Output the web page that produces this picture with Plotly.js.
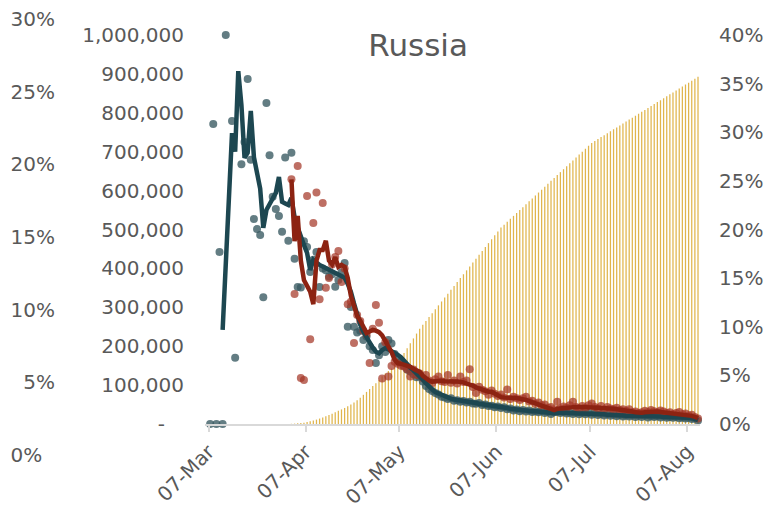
<!DOCTYPE html>
<html>
<head>
<meta charset="utf-8">
<script src="https://cdn.plot.ly/plotly-3.0.1.min.js"></script>
<style>
  html, body { margin: 0; padding: 0; background: #fff; }
  #plot { width: 770px; height: 511px; }
</style>
</head>
<body>
<div id="plot"></div>
<script>
// one value per day, starting 07-Mar-2020
const firstDay = Date.UTC(2020, 2, 7);

// daily values (grey dots) and their average line
const greyDots = [
  0, 771, 0, 442, 0, 1000, null, 779, 170, null,
  668, 725, 887, 679, 527, 501, 486, 326, 825, 691,
  584, 553, 535, 494, 685, 471, 697, 425, 352, 351,
  470, 455, 391, 422, 442, 352, 400, 395, 379, 385,
  353, 370, 390, 414, 250, 301, 250, 235, 240, 216,
  225, 200, 190, 157, 177, 200, 185, 216, 207, 180,
  165, 160, 150, 140, 135, 128, 120, 122, 109, 98,
  90, 85, 80, 76, 70, 68, 64, 66, 60, 61,
  57, 59, 55, 57, 53, 52, 54, 49, 50, 46,
  47, 43, 45, 41, 43, 38, 40, 35, 37, 33,
  36, 32, 35, 31, 33, 30, 33, 28, 31, 26,
  30, 31, 28, 30, 27, 29, 26, 29, 25, 28,
  25, 28, 24, 27, 23, 26, 22, 25, 21, 24,
  20, 23, 19, 22, 19, 22, 18, 21, 18, 21,
  17, 20, 18, 20, 17, 19, 16, 18, 16, 18,
  15, 17, 14, 16, 13, 14, 9
];
const greyLine = [
  null, null, null, null, 242, 410, 580, 748, 700, 907,
  820, 684, 697, 805, 686, 650, 605, 504, 550, 565,
  580, 594, 635, 571, 567, 563, 581, 532, 505, 478,
  460, 440, 396, 422, 415, 409, 405, 401, 395, 391,
  388, 383, 378, 376, 360, 340, 310, 278, 255, 237,
  222, 208, 196, 186, 182, 190, 195, 192, 188, 184,
  178, 172, 162, 152, 145, 138, 131, 124, 114, 105,
  95, 89, 82, 78, 74, 70, 67, 65, 63, 62,
  60, 59, 57, 56, 55, 54, 52, 51, 50, 49,
  47, 45, 44, 43, 42, 41, 39, 38, 36, 35,
  35, 34, 34, 33, 33, 32, 32, 31, 30, 29,
  28, 29, 30, 29, 29, 28, 28, 28, 27, 27,
  27, 27, 27, 26, 26, 25, 25, 24, 24, 23,
  23, 22, 22, 21, 21, 21, 20, 20, 20, 20,
  19, 19, 19, 19, 19, 18, 18, 18, 17, 17,
  17, 16, 16, 16, 15, 13, 10
];

// second series (red dots) and its average line
const redDots = [
  null, null, null, null, null, null, null, null, null, null,
  null, null, null, null, null, null, null, null, null, null,
  null, null, null, null, null, null, 629, 334, 663, 118,
  113, 586, 218, 517, 595, 321, 568, 350, 375, 410,
  429, 445, 365, 400, 308, 314, 208, 280, 265, 240,
  230, 157, 245, 306, 260, 117, 210, 122, 149, 160,
  155, 150, 148, 140, 122, 140, 126, 130, 118, 126,
  112, 105, 115, 122, 110, 108, 126, 106, 112, 104,
  122, 108, 112, 141, 95, 80, 96, 88, 84, 75,
  86, 78, 72, 76, 68, 89, 64, 70, 66, 62,
  66, 70, 58, 60, 52, 55, 48, 50, 42, 44,
  38, 57, 40, 45, 42, 48, 57, 44, 40, 46,
  42, 48, 53, 44, 40, 46, 38, 44, 40, 38,
  42, 36, 38, 34, 38, 30, 32, 28, 30, 34,
  31, 36, 33, 30, 35, 32, 28, 30, 26, 28,
  31, 25, 27, 22, 24, 18, 14
];
const redLine = [
  null, null, null, null, null, null, null, null, null, null,
  null, null, null, null, null, null, null, null, null, null,
  null, null, null, null, null, null, 629, 470, 535, 420,
  370, 355, 340, 308, 420, 447, 447, 471, 420, 410,
  429, 404, 409, 404, 375, 330, 305, 278, 266, 250,
  234, 238, 242, 240, 236, 228, 213, 202, 185, 165,
  156, 155, 153, 150, 147, 142, 138, 134, 124, 116,
  112, 109, 110, 111, 111, 110, 109, 109, 109, 109,
  109, 107, 104, 102, 99, 94, 91, 87, 83, 83,
  83, 78, 72, 69, 68, 67, 67, 67, 67, 66,
  64, 62, 59, 56, 54, 51, 48, 46, 42, 39,
  36, 39, 40, 42, 43, 44, 44, 44, 44, 44,
  44, 44, 44, 43, 42, 41, 41, 40, 40, 39,
  38, 37, 36, 36, 34, 32, 30, 29, 29, 30,
  31, 32, 32, 32, 31, 30, 29, 28, 27, 27,
  26, 25, 24, 22, 21, 18, 15
];

// cumulative share, right axis (%)
const barShare = [
  null, null, null, null, null, null, null, null, null, null,
  null, null, null, null, null, null, null, null, null, null,
  null, null, null, null, null, 0.01, 0.02, 0.04, 0.07, 0.1,
  0.14, 0.2, 0.27, 0.35, 0.45, 0.56, 0.68, 0.8, 0.93, 1.06,
  1.2, 1.35, 1.5, 1.65, 1.82, 2.0, 2.2, 2.45, 2.7, 3.0,
  3.3, 3.6, 3.9, 4.2, 4.55, 4.9, 5.2, 5.45, 5.7, 6.0,
  6.4, 6.8, 7.3, 7.8, 8.3, 8.8, 9.3, 9.8, 10.2, 10.6,
  11.0, 11.4, 11.8, 12.2, 12.6, 13.0, 13.4, 13.8, 14.2, 14.6,
  15.0, 15.4, 15.8, 16.2, 16.6, 17.0, 17.4, 17.8, 18.2, 18.6,
  19.0, 19.4, 19.8, 20.2, 20.5, 20.8, 21.1, 21.4, 21.7, 22.0,
  22.3, 22.6, 22.9, 23.2, 23.5, 23.8, 24.1, 24.4, 24.7, 25.0,
  25.3, 25.6, 25.9, 26.2, 26.5, 26.8, 27.1, 27.4, 27.7, 28.0,
  28.3, 28.6, 28.9, 29.1, 29.3, 29.5, 29.7, 29.9, 30.1, 30.3,
  30.5, 30.7, 30.9, 31.1, 31.3, 31.5, 31.7, 31.9, 32.1, 32.3,
  32.5, 32.7, 32.9, 33.1, 33.3, 33.5, 33.7, 33.9, 34.1, 34.3,
  34.5, 34.7, 34.9, 35.1, 35.3, 35.5, 35.7
];

const monthTicks = ['2020-03-07', '2020-04-07', '2020-05-07', '2020-06-07', '2020-07-07', '2020-08-07'];
const countTicks = [0, 100000, 200000, 300000, 400000, 500000, 600000, 700000, 800000, 900000, 1000000];
const countLabels = ['-\u00a0\u00a0\u00a0', '100,000', '200,000', '300,000', '400,000', '500,000',
                     '600,000', '700,000', '800,000', '900,000', '1,000,000'];
const rightTicks = [0, 5, 10, 15, 20, 25, 30, 35, 40];
const rightLabels = ['0%', '5%', '10%', '15%', '20%', '25%', '30%', '35%', '40%'];
const leftTicks = [0, 5, 10, 15, 20, 25, 30];
const leftLabels = ['0%\u00a0\u00a0', '5%', '10%', '15%', '20%', '25%', '30%'];

const DAY = 86400000;
const dates = greyDots.map((_, i) => new Date(firstDay + i * DAY).toISOString().slice(0, 10));
const thousands = arr => arr.map(v => (v === null ? null : v * 1000));

const textColor = '#595959';
const tickFont = { family: 'DejaVu Sans', size: 20, color: textColor };

const barTrace = {
  type: 'bar',
  x: dates,
  y: barShare,
  yaxis: 'y',
  xperiod: DAY,
  xperiodalignment: 'middle',
  width: DAY * 0.4,
  marker: { color: 'rgba(218,168,45,0.85)', line: { width: 0 } },
  hoverinfo: 'skip'
};

const greyDotTrace = {
  type: 'scatter',
  mode: 'markers',
  x: dates,
  y: thousands(greyDots),
  yaxis: 'y2',
  xperiod: DAY,
  xperiodalignment: 'middle',
  cliponaxis: false,
  marker: { size: 8, color: 'rgba(55,88,96,0.78)' }
};

const redDotTrace = {
  type: 'scatter',
  mode: 'markers',
  x: dates,
  y: thousands(redDots),
  yaxis: 'y2',
  xperiod: DAY,
  xperiodalignment: 'middle',
  cliponaxis: false,
  marker: { size: 8, color: 'rgba(165,55,40,0.72)' }
};

const greyLineTrace = {
  type: 'scatter',
  mode: 'lines',
  x: dates,
  y: thousands(greyLine),
  yaxis: 'y2',
  xperiod: DAY,
  xperiodalignment: 'middle',
  cliponaxis: false,
  line: { color: '#1D4751', width: 4.5 }
};

const redLineTrace = {
  type: 'scatter',
  mode: 'lines',
  x: dates,
  y: thousands(redLine),
  yaxis: 'y2',
  xperiod: DAY,
  xperiodalignment: 'middle',
  cliponaxis: false,
  line: { color: '#8C2312', width: 4.5 }
};

// keeps the far-left percent axis alive
const leftAxisHolder = {
  type: 'scatter',
  mode: 'markers',
  x: [dates[0]],
  y: [0],
  yaxis: 'y3',
  marker: { opacity: 0 },
  hoverinfo: 'skip'
};

const layout = {
  width: 770,
  height: 511,
  margin: { l: 55, r: 52, t: 19, b: 56 },
  paper_bgcolor: '#ffffff',
  plot_bgcolor: 'rgba(0,0,0,0)',
  showlegend: false,
  font: { family: 'DejaVu Sans', color: textColor },
  title: {
    text: 'Russia',
    font: { family: 'DejaVu Sans', size: 31, color: textColor },
    x: 0.543,
    xanchor: 'center',
    y: 0.912,
    yanchor: 'middle'
  },
  xaxis: {
    type: 'date',
    domain: [0.2262, 0.9729],
    range: ['2020-03-05 20:23', '2020-08-11 03:35'],
    anchor: 'y',
    tickvals: monthTicks,
    tickformat: '%d-%b',
    tickangle: -45,
    tickfont: tickFont,
    ticks: 'outside',
    ticklen: 6,
    tickwidth: 2,
    tickcolor: '#D9D9D9',
    showline: true,
    linecolor: '#D9D9D9',
    linewidth: 2,
    showgrid: false,
    zeroline: false
  },
  yaxis: {
    domain: [0.0711, 0.9633],
    range: [0, 40],
    anchor: 'free',
    position: 1,
    side: 'right',
    tickvals: rightTicks,
    ticktext: rightLabels,
    tickfont: tickFont,
    showgrid: false,
    zeroline: false,
    showline: false
  },
  yaxis2: {
    overlaying: 'y',
    anchor: 'x',
    side: 'left',
    range: [0, 1000000],
    tickvals: countTicks,
    ticktext: countLabels,
    tickfont: tickFont,
    ticklabelstandoff: 20,
    showgrid: false,
    zeroline: false,
    showline: false
  },
  yaxis3: {
    domain: [0, 1],
    range: [0, 30],
    anchor: 'free',
    position: 0,
    side: 'left',
    tickvals: leftTicks,
    ticktext: leftLabels,
    tickfont: tickFont,
    showgrid: false,
    zeroline: false,
    showline: false
  }
};

Plotly.newPlot('plot',
  [barTrace, greyDotTrace, redDotTrace, greyLineTrace, redLineTrace, leftAxisHolder],
  layout,
  { staticPlot: true });
</script>
</body>
</html>
